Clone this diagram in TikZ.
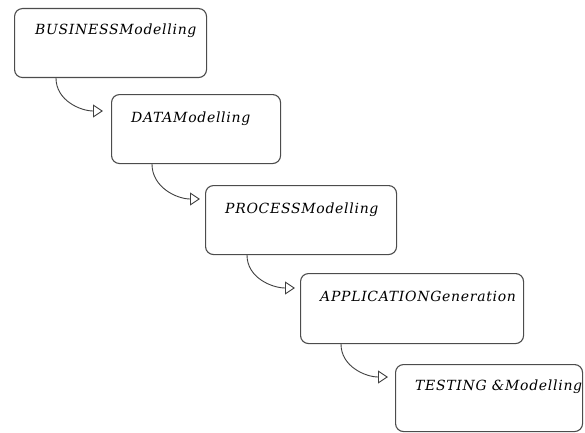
\documentclass[tikz,border=0pt]{standalone}
\usepackage{fontspec}
\setmainfont{DejaVu Serif}
\newfontfamily\stagefont[LetterSpace=5]{DejaVu Serif}
\usetikzlibrary{arrows.meta}

\begin{document}
\begin{tikzpicture}[x=1pt, y=1pt,
      stage/.style={draw=black!70, line width=1.1pt, rounded corners=8pt, anchor=north west, inner sep=0pt},
      title/.style={anchor=base west, inner sep=0pt, font=\stagefont\fontsize{14}{16}\selectfont\itshape},
      flow/.style={-{Triangle[open, length=10pt, width=13pt]}, line width=0.9pt, black!75}
    ]
      \useasboundingbox (0,0) rectangle (585,432);

      \node[stage, minimum width=192pt, minimum height=69pt] (business) at (14,424) {};
      \node[stage, minimum width=169pt, minimum height=69pt] (data) at (111,338) {};
      \node[stage, minimum width=191pt, minimum height=69pt] (process) at (205,247) {};
      \node[stage, minimum width=223pt, minimum height=70pt] (application) at (300,159) {};
      \node[stage, minimum width=187pt, minimum height=67pt] (testing) at (395,68) {};

      \node[title] (businesstext) at ([xshift=21pt,yshift=-27pt]business.north west) {BUSINESSModelling};
      \node[title] (datatext) at ([xshift=20pt,yshift=-28pt]data.north west) {DATAModelling};
      \node[title] (processtext) at ([xshift=20pt,yshift=-28pt]process.north west) {PROCESSModelling};
      \node[title] (applicationtext) at ([xshift=20pt,yshift=-28pt]application.north west) {APPLICATIONGeneration};
      \node[title] (testingtext) at ([xshift=20pt,yshift=-26pt]testing.north west) {TESTING \&Modelling};

      \draw[flow] ([xshift=42pt]business.south west) to[out=-90, in=180] ([xshift=-8pt,yshift=-17pt]data.north west);
      \draw[flow] ([xshift=41pt]data.south west) to[out=-90, in=180] ([xshift=-5pt,yshift=-14pt]process.north west);
      \draw[flow] ([xshift=42pt]process.south west) to[out=-90, in=180] ([xshift=-5pt,yshift=-15pt]application.north west);
      \draw[flow] ([xshift=41pt]application.south west) to[out=-90, in=180] ([xshift=-7pt,yshift=-13pt]testing.north west);
    \end{tikzpicture}
\end{document}
